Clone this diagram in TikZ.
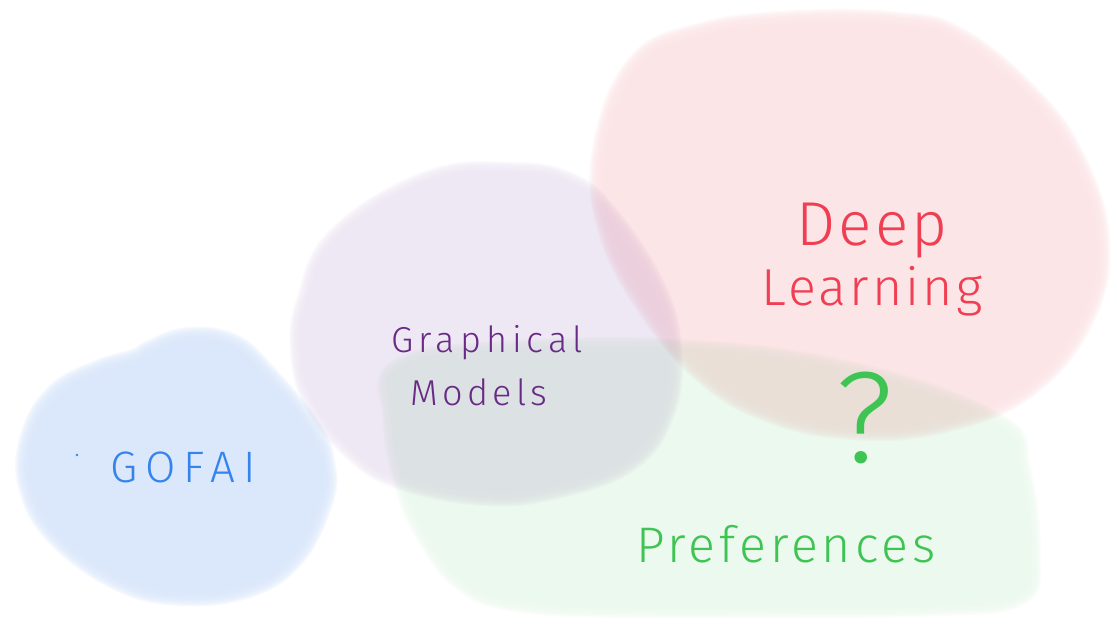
\documentclass[tikz,border=0pt]{standalone}
\usepackage{fontspec}
\newfontfamily\hand{Fira Sans Light}
\definecolor{gofaifill}{RGB}{219,232,251}
\definecolor{gmfill}{RGB}{238,231,244}
\definecolor{dlfill}{RGB}{252,229,231}
\definecolor{preffill}{RGB}{236,249,238}
\definecolor{gofaiink}{RGB}{52,132,236}
\definecolor{gmink}{RGB}{104,42,132}
\definecolor{dlink}{RGB}{240,62,82}
\definecolor{prefink}{RGB}{62,196,82}
% a soft-edged colour region: #1 colour, #2 closed path
\newcommand\softblob[2]{%
  \begin{scope}[blend mode=multiply]
    \begin{scope}[transparency group]
      \foreach \w in {26,23.5,21,18.5,16,13.5,11,8.5,6,3.5}
        \draw[#1, line width=\w pt, opacity=.24, line join=round] #2;
      \fill[#1] #2;
    \end{scope}
  \end{scope}}
\begin{document}
\begin{tikzpicture}[x=1pt, y=-1pt,
  label/.style={inner sep=0pt, anchor=base},
  handfont/.style={font=\hand\fontsize{#1}{#1}\selectfont}]
\useasboundingbox (0,0) rectangle (1117,629);
\fill[white] (0,0) rectangle (1117,629);

% Preferences region
\softblob{preffill}{plot[smooth cycle, tension=.7] coordinates {
  (402,370) (500,354) (680,352) (850,374) (993,424) (1018,470) (1028,556)
  (1016,594) (940,603) (800,605) (620,605) (517,599) (465,580) (428,533)
  (406,480) (395,414)}}
% Graphical Models region
\softblob{gmfill}{plot[smooth cycle, tension=.7] coordinates {
  (340,238) (430,183) (513,175) (568,185) (606,216) (653,288) (669,350)
  (662,412) (628,459) (560,485) (487,493) (402,477) (353,447) (315,398)
  (303,350) (309,302)}}
% GOFAI region
\softblob{gofaifill}{plot[smooth cycle, tension=.7] coordinates {
  (98,373) (137,361) (153,352) (188,340) (231,346) (264,375) (309,430)
  (323,467) (320,502) (293,555) (248,585) (183,593) (121,579) (59,535)
  (31,486) (33,437) (57,396)}}
% Deep Learning region
\softblob{dlfill}{plot[smooth cycle, tension=.7] coordinates {
  (638,67) (703,35) (800,23) (900,25) (956,39) (1023,92) (1071,156)
  (1097,240) (1081,319) (1024,387) (939,421) (854,427) (773,411) (707,373)
  (651,308) (611,230) (605,151)}}

% labels
\node[label, handfont=44, text=gofaiink] (gofai) at (183,482)
  {\addfontfeature{LetterSpace=18}GOFAI};
\fill[gofaiink] (77,455) circle (1.3pt);
\node[label, handfont=36, text=gmink] (graphical) at (487,352)
  {\addfontfeature{LetterSpace=14}Graphical};
\node[label, handfont=36, text=gmink] (models) at (479,405)
  {\addfontfeature{LetterSpace=12}Models};
\node[label, handfont=62, text=dlink] (deep) at (872,245)
  {\addfontfeature{LetterSpace=5}Deep};
\node[label, handfont=52, text=dlink] (learning) at (872,305)
  {\addfontfeature{LetterSpace=6}Learning};
\node[label, handfont=130, text=prefink] (question) at (865,462) {?};
\node[label, handfont=50, text=prefink] (preferences) at (786,562)
  {\addfontfeature{LetterSpace=8}Preferences};
\end{tikzpicture}
\end{document}
